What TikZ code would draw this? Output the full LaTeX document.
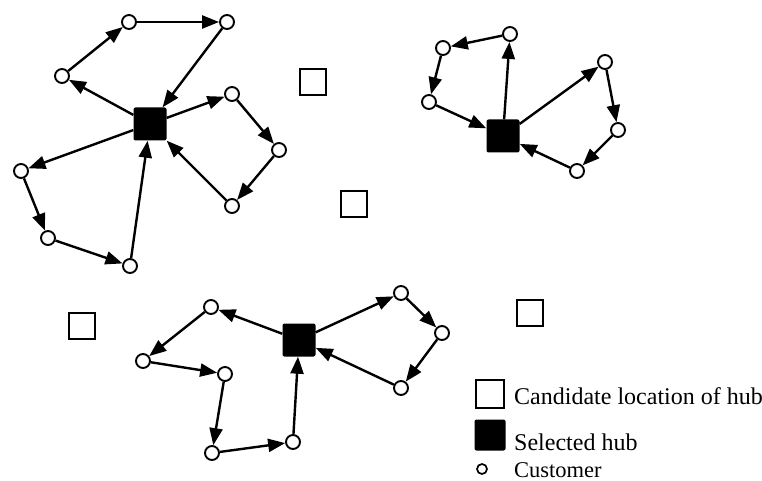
\documentclass[tikz,border=0pt]{standalone}
\usepackage{fontspec}
\setmainfont{Liberation Serif}
\usetikzlibrary{arrows.meta}
\tikzset{
  cust/.style={circle, draw, line width=1.9pt, minimum size=14pt, inner sep=0pt, fill=white},
  hub/.style={rectangle, fill=black, minimum size=33pt, inner sep=0pt, rounded corners=2pt},
  cand/.style={rectangle, draw, line width=1.8pt, minimum size=26pt, inner sep=0pt},
  arr/.style={-{Triangle[length=17pt,width=13pt]}, line width=2.4pt},
  lab/.style={anchor=base west, inner sep=0pt}
}
\begin{document}
\begin{tikzpicture}[x=1pt,y=-1pt]
\useasboundingbox (0,0) rectangle (762,481);
% candidate locations
\node[cand] (c1) at (313,82) {};
\node[cand] (c2) at (354,204) {};
\node[cand] (c3) at (82,326) {};
\node[cand] (c4) at (530,313) {};
% cluster 1
\node[hub] (H1) at (150,124) {};
\node[cust] (a) at (129,22) {};
\node[cust] (b) at (227,22) {};
\node[cust] (c) at (62,76) {};
\node[cust] (d) at (232,94) {};
\node[cust] (e) at (279,150) {};
\node[cust] (f) at (232,206) {};
\node[cust] (g) at (21,171) {};
\node[cust] (h) at (48,238) {};
\node[cust] (i) at (130,266) {};
\draw[arr] (H1) -- (c);
\draw[arr] (c) -- (a);
\draw[arr] (a) -- (b);
\draw[arr] (b) -- (H1);
\draw[arr] (H1) -- (d);
\draw[arr] (d) -- (e);
\draw[arr] (e) -- (f);
\draw[arr] (f) -- (H1);
\draw[arr] (H1) -- (g);
\draw[arr] (g) -- (h);
\draw[arr] (h) -- (i);
\draw[arr] (i) -- (H1);
% cluster 2
\node[hub] (H2) at (503,136) {};
\node[cust] (j) at (510,34) {};
\node[cust] (k) at (443,48) {};
\node[cust] (l) at (429,102) {};
\node[cust] (m) at (605,62) {};
\node[cust] (n) at (618,130) {};
\node[cust] (o) at (577,171) {};
\draw[arr] (H2) -- (j);
\draw[arr] (j) -- (k);
\draw[arr] (k) -- (l);
\draw[arr] (l) -- (H2);
\draw[arr] (H2) -- (m);
\draw[arr] (m) -- (n);
\draw[arr] (n) -- (o);
\draw[arr] (o) -- (H2);
% cluster 3
\node[hub] (H3) at (299,340) {};
\node[cust] (p) at (211,307) {};
\node[cust] (q) at (143,361) {};
\node[cust] (r) at (225,374) {};
\node[cust] (s) at (212,453) {};
\node[cust] (t) at (293,442) {};
\node[cust] (u) at (401,293) {};
\node[cust] (v) at (442,333) {};
\node[cust] (w) at (401,388) {};
\draw[arr] (H3) -- (p);
\draw[arr] (p) -- (q);
\draw[arr] (q) -- (r);
\draw[arr] (r) -- (s);
\draw[arr] (s) -- (t);
\draw[arr] (t) -- (H3);
\draw[arr] (H3) -- (u);
\draw[arr] (u) -- (v);
\draw[arr] (v) -- (w);
\draw[arr] (w) -- (H3);
% legend
\node[cand, minimum size=28pt] (lc) at (490,394) {};
\node[hub, minimum size=31pt] (lh) at (490,435) {};
\node[cust, minimum size=10pt, line width=1.7pt] (lo) at (482,469) {};
\node[lab] (t1) at (514,404) {\fontsize{24}{26}\selectfont Candidate location of hub};
\node[lab] (t2) at (514,450) {\fontsize{24}{26}\selectfont Selected hub};
\node[lab] (t3) at (514,477) {\fontsize{22.5}{24}\selectfont Customer};
\end{tikzpicture}
\end{document}
